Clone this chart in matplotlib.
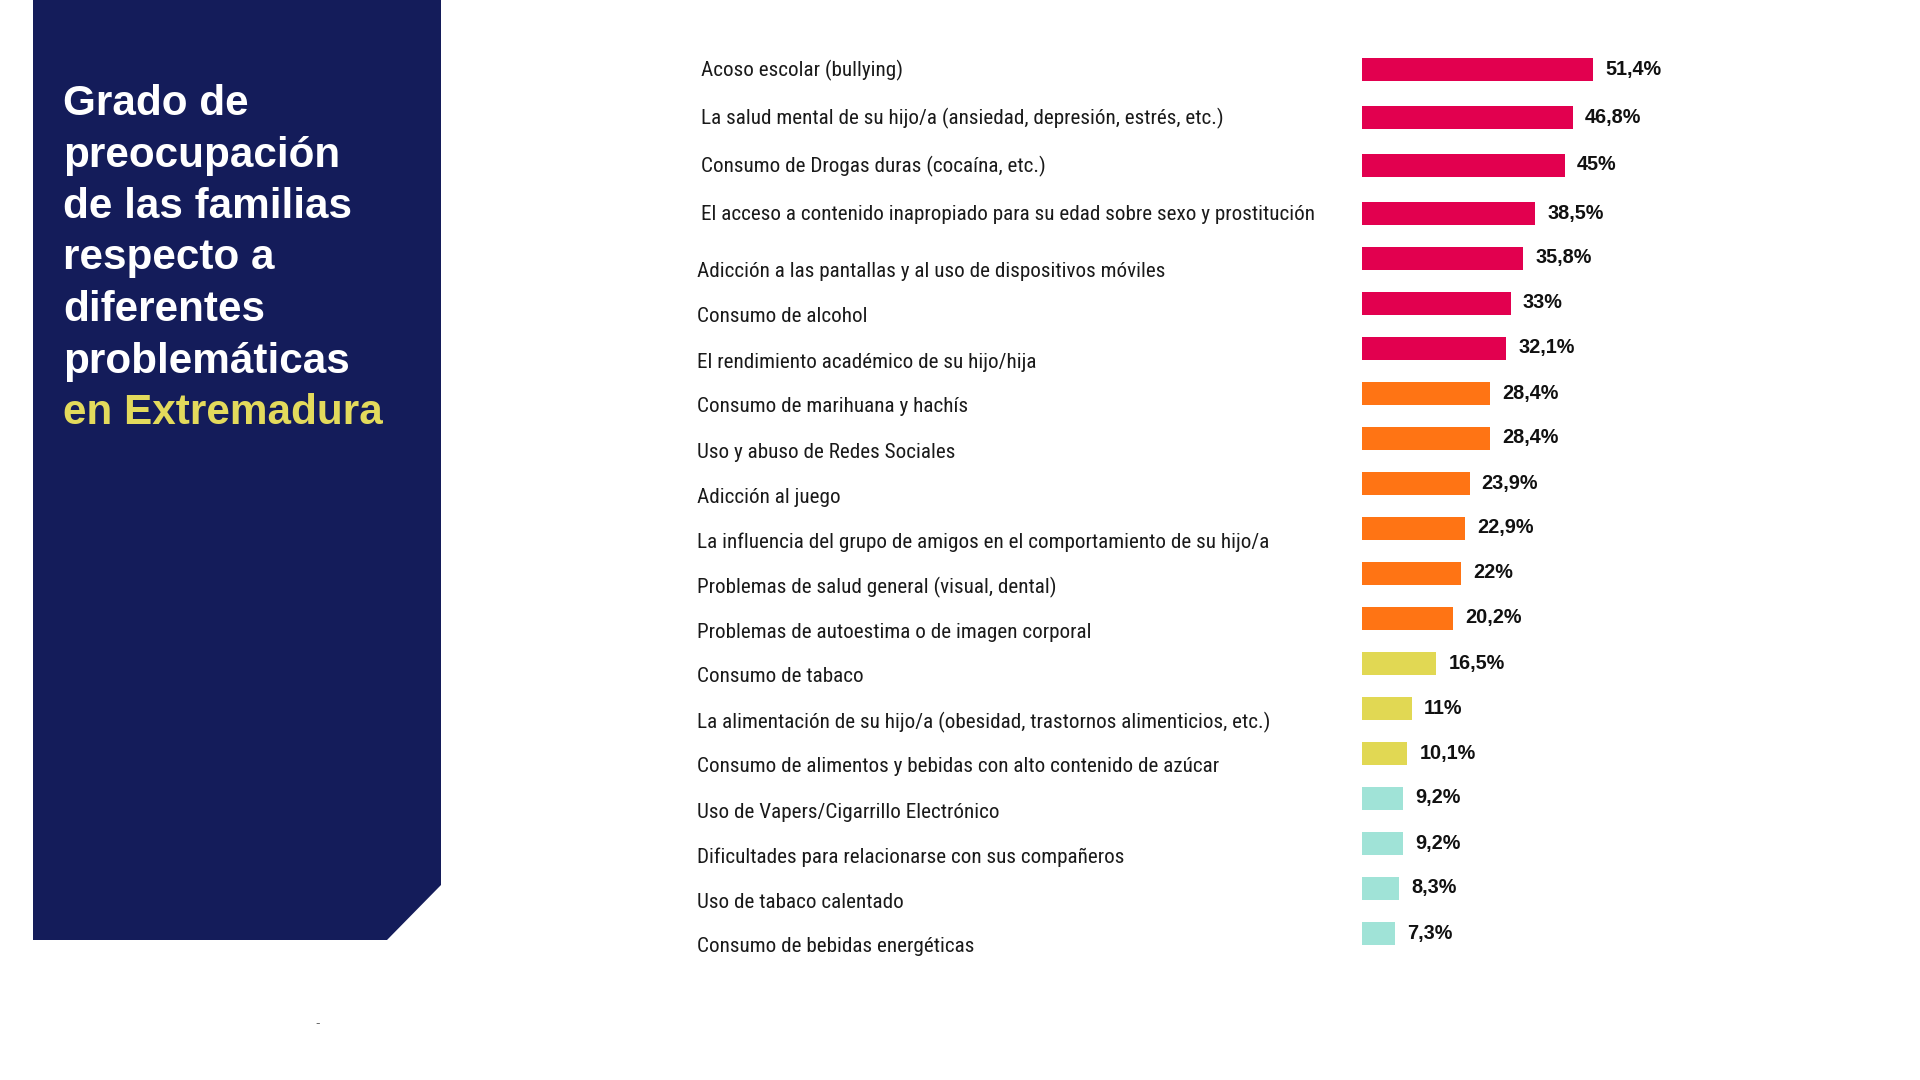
import matplotlib
matplotlib.use("Agg")
import matplotlib.pyplot as plt
from matplotlib import font_manager
from matplotlib.patches import Polygon

categorias = [
    "Acoso escolar (bullying)",
    "La salud mental de su hijo/a (ansiedad, depresión, estrés, etc.)",
    "Consumo de Drogas duras (cocaína, etc.)",
    "El acceso a contenido inapropiado para su edad sobre sexo y prostitución",
    "Adicción a las pantallas y al uso de dispositivos móviles",
    "Consumo de alcohol",
    "El rendimiento académico de su hijo/hija",
    "Consumo de marihuana y hachís",
    "Uso y abuso de Redes Sociales",
    "Adicción al juego",
    "La influencia del grupo de amigos en el comportamiento de su hijo/a",
    "Problemas de salud general (visual, dental)",
    "Problemas de autoestima o de imagen corporal",
    "Consumo de tabaco",
    "La alimentación de su hijo/a (obesidad, trastornos alimenticios, etc.)",
    "Consumo de alimentos y bebidas con alto contenido de azúcar",
    "Uso de Vapers/Cigarrillo Electrónico",
    "Dificultades para relacionarse con sus compañeros",
    "Uso de tabaco calentado",
    "Consumo de bebidas energéticas",
]
porcentajes = [51.4, 46.8, 45, 38.5, 35.8, 33, 32.1, 28.4, 28.4, 23.9,
               22.9, 22, 20.2, 16.5, 11, 10.1, 9.2, 9.2, 8.3, 7.3]
nivel = [0, 0, 0, 0, 0, 0, 0, 1, 1, 1, 1, 1, 1, 2, 2, 2, 3, 3, 3, 3]
titulo_lineas = ["Grado de", "preocupación", "de las familias",
                 "respecto a", "diferentes", "problemáticas"]
titulo_destacado = "en Extremadura"

paleta = ["#E2004F", "#FF7414", "#E1D853", "#A0E3D7"]
navy = "#141C5A"

names = {f.name for f in font_manager.fontManager.ttflist}
cat_font = "Roboto"
cat_size = 13.2
for cand in ["Roboto Condensed", "Liberation Sans Narrow", "Open Sans Condensed"]:
    if cand in names:
        cat_font = cand
        cat_size = 15.2
        break

W, H = 1920, 1080
fig = plt.figure(figsize=(W / 100, H / 100), dpi=100)
fig.patch.set_facecolor("white")

def fx(px):
    return px / W

def fy(py):
    return 1 - py / H

# title panel
panel = Polygon([(fx(33), fy(0)), (fx(441), fy(0)), (fx(441), fy(885)),
                 (fx(387), fy(940)), (fx(33), fy(940))],
                closed=True, transform=fig.transFigure, facecolor=navy,
                edgecolor="none", zorder=0)
fig.patches.append(panel)

for k, line in enumerate(titulo_lineas + [titulo_destacado]):
    color = "#E3DA5C" if k == len(titulo_lineas) else "white"
    fig.text(fx(63), fy(115 + 51.5 * k), line, color=color,
             fontsize=30.4, fontweight="bold", family="Liberation Sans",
             ha="left", va="baseline")

fig.text(fx(318), fy(1024), "-", color="#666666", fontsize=9,
         ha="center", va="center")

# bars: axes in pixel units (y measured from the top of the figure)
n = len(categorias)
ax = fig.add_axes([fx(1362), 0, fx(450), 1])
ax.set_xlim(0, 100)
ax.set_ylim(H, 0)
ax.axis("off")

def fila(i, first, step_a, step_b):
    return first + step_a * min(i, 3) + step_b * max(i - 3, 0)

bar_y = [fila(i, 69, 48, 45) for i in range(n)]
lab_y = [fila(i, 70, 48, 45) + (0 if i < 4 else 13) for i in range(n)]

ax.barh(bar_y, porcentajes, height=23,
        color=[paleta[g] for g in nivel], edgecolor="none")

for y, v in zip(bar_y, porcentajes):
    txt = f"{v:g}".replace(".", ",") + "%"
    ax.annotate(txt, xy=(v, y), xytext=(12, 0), textcoords="offset pixels",
                ha="left", va="center", fontsize=14.3, fontweight="bold",
                family="Liberation Sans", color="#111111")

for i, (y, cat) in enumerate(zip(lab_y, categorias)):
    x = 701 if i < 4 else 697
    fig.text(fx(x), fy(y), cat, ha="left", va="center",
             fontsize=cat_size, family=cat_font, color="#1a1a1a")

fig.savefig("out.png", dpi=100, facecolor="white")
